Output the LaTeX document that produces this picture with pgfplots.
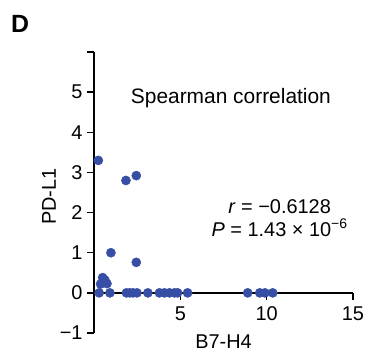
\documentclass[border=0pt]{standalone}
\usepackage{pgfplots}
\pgfplotsset{compat=1.18}
\usepackage{fontspec}
\setmainfont{Liberation Sans}
\definecolor{dotblue}{RGB}{55,78,165}
\begin{document}
\begin{tikzpicture}
\path[use as bounding box] (-94bp,-23bp) rectangle (274bp,333bp);
\begin{axis}[
  scale only axis, width=259bp, height=281bp,
  xmin=0, xmax=15, ymin=-1, ymax=6,
  axis x line=middle, axis y line=left,
  axis line style={-, line width=1.4bp, black},
  tick style={line width=1.4bp, black},
  tick align=outside,
  major tick length=7bp,
  xtick={5,10,15}, ytick={-1,0,1,2,3,4,5,6},
  yticklabels={−1,0,1,2,3,4,5,{}},
  xticklabels={5,10,15},
  /pgf/number format/assume math mode=true,
  ticklabel style={font=\fontsize{20}{24}\selectfont},
  xticklabel style={yshift=-3bp},
  yticklabel style={xshift=-1bp},
  clip=false,
]
\addplot[only marks, mark=*, mark size=4.6bp, color=dotblue, mark options={draw=dotblue, fill=dotblue}] coordinates {
(0.25,3.3) (1.85,2.8) (2.45,2.92) (0.98,1.0) (2.45,0.76)
(0.5,0.38) (0.63,0.32) (0.75,0.23) (0.38,0.22)
(0.3,0) (0.92,0) (1.88,0) (2.07,0) (2.26,0) (2.49,0) (3.12,0) (3.79,0)
(4.08,0) (4.37,0) (4.66,0) (4.84,0) (5.42,0) (8.9,0) (9.6,0) (9.9,0) (10.35,0)
};
\node[font=\fontsize{21}{25}\selectfont] at (axis cs:7.93,4.84) {Spearman correlation};
\node[font=\fontsize{20}{23}\selectfont, align=center] at (axis cs:10.75,1.87) {\textit{r} = −0.6128\\\textit{P} = 1.43 × 10\textsuperscript{−6}};
\node[font=\fontsize{20}{24}\selectfont] at (axis cs:7.5,-1) [yshift=-9bp] {B7-H4};
\node[font=\fontsize{20}{24}\selectfont, rotate=90] at ([xshift=-45bp]axis cs:0,2.4) {PD-L1};
\end{axis}
\node[font=\fontsize{25}{30}\selectfont\bfseries] at (-74bp,309bp) {D};
\end{tikzpicture}
\end{document}
